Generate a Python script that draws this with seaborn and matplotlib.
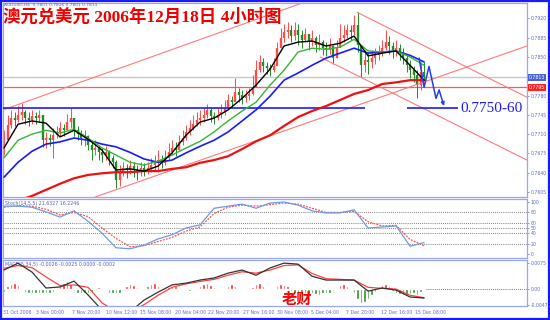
import numpy as np
import pandas as pd
import matplotlib
matplotlib.use("Agg")
import matplotlib.pyplot as plt
import matplotlib.transforms as mtransforms
from matplotlib.patches import Rectangle
import seaborn as sns

sns.set_style("white")
plt.rcParams["font.family"] = ["DejaVu Sans", "Noto Sans CJK SC"]

# ---------------- data ----------------
close = [0.7699, 0.7726, 0.7739, 0.7736, 0.7745, 0.7750, 0.7739, 0.7736, 0.7743, 0.7739,
         0.7745, 0.7699, 0.7703, 0.7699, 0.7708, 0.7714, 0.7721, 0.7717, 0.7732, 0.7739,
         0.7717, 0.7710, 0.7703, 0.7706, 0.7690, 0.7681, 0.7685, 0.7677, 0.7672, 0.7677,
         0.7667, 0.7659, 0.7627, 0.7641, 0.7648, 0.7645, 0.7652, 0.7645, 0.7641, 0.7648,
         0.7645, 0.7648, 0.7654, 0.7659, 0.7663, 0.7658, 0.7667, 0.7677, 0.7685, 0.7681,
         0.7696, 0.7703, 0.7714, 0.7721, 0.7728, 0.7736, 0.7739, 0.7745, 0.7754, 0.7743,
         0.7739, 0.7745, 0.7750, 0.7757, 0.7772, 0.7768, 0.7786, 0.7781, 0.7775, 0.7779,
         0.7783, 0.7794, 0.7826, 0.7841, 0.7833, 0.7830, 0.7826, 0.7833, 0.7866, 0.7884,
         0.7895, 0.7899, 0.7888, 0.7899, 0.7890, 0.7881, 0.7892, 0.7877, 0.7884, 0.7872,
         0.7877, 0.7866, 0.7862, 0.7870, 0.7848, 0.7866, 0.7884, 0.7890, 0.7899, 0.7895,
         0.7908, 0.7872, 0.7835, 0.7844, 0.7841, 0.7848, 0.7853, 0.7859, 0.7866, 0.7877,
         0.7870, 0.7862, 0.7866, 0.7859, 0.7848, 0.7835, 0.7826, 0.7817, 0.7799, 0.7823,
         0.7813]
high = [0.7717, 0.7745, 0.7754, 0.7750, 0.7761, 0.7766, 0.7754, 0.7750, 0.7754, 0.7750,
        0.7754, 0.7745, 0.7714, 0.7710, 0.7721, 0.7725, 0.7732, 0.7728, 0.7746, 0.7757,
        0.7739, 0.7725, 0.7717, 0.7717, 0.7708, 0.7696, 0.7699, 0.7690, 0.7685, 0.7688,
        0.7681, 0.7672, 0.7663, 0.7654, 0.7659, 0.7656, 0.7663, 0.7659, 0.7654, 0.7659,
        0.7658, 0.7659, 0.7667, 0.7672, 0.7681, 0.7672, 0.7681, 0.7694, 0.7699, 0.7696,
        0.7708, 0.7717, 0.7726, 0.7736, 0.7745, 0.7750, 0.7754, 0.7757, 0.7765, 0.7757,
        0.7750, 0.7757, 0.7765, 0.7772, 0.7783, 0.7779, 0.7812, 0.7794, 0.7790, 0.7790,
        0.7794, 0.7817, 0.7844, 0.7853, 0.7848, 0.7841, 0.7837, 0.7848, 0.7877, 0.7902,
        0.7910, 0.7913, 0.7908, 0.7913, 0.7910, 0.7899, 0.7902, 0.7892, 0.7899, 0.7888,
        0.7892, 0.7881, 0.7877, 0.7884, 0.7872, 0.7881, 0.7910, 0.7908, 0.7910, 0.7908,
        0.7926, 0.7931, 0.7872, 0.7862, 0.7859, 0.7862, 0.7866, 0.7872, 0.7881, 0.7899,
        0.7888, 0.7877, 0.7881, 0.7873, 0.7866, 0.7853, 0.7844, 0.7833, 0.7826, 0.7841,
        0.7841]
low = [0.7672, 0.7699, 0.7721, 0.7725, 0.7732, 0.7736, 0.7728, 0.7725, 0.7728, 0.7728,
       0.7732, 0.7687, 0.7685, 0.7688, 0.7667, 0.7703, 0.7706, 0.7706, 0.7717, 0.7721,
       0.7706, 0.7699, 0.7690, 0.7688, 0.7681, 0.7663, 0.7672, 0.7663, 0.7659, 0.7663,
       0.7654, 0.7648, 0.7612, 0.7616, 0.7634, 0.7630, 0.7638, 0.7632, 0.7627, 0.7634,
       0.7634, 0.7638, 0.7641, 0.7645, 0.7641, 0.7648, 0.7654, 0.7663, 0.7672, 0.7670,
       0.7681, 0.7690, 0.7699, 0.7708, 0.7717, 0.7725, 0.7726, 0.7732, 0.7739, 0.7732,
       0.7728, 0.7736, 0.7739, 0.7745, 0.7757, 0.7757, 0.7772, 0.7768, 0.7765, 0.7768,
       0.7772, 0.7781, 0.7799, 0.7823, 0.7823, 0.7819, 0.7815, 0.7823, 0.7835, 0.7866,
       0.7877, 0.7884, 0.7877, 0.7881, 0.7872, 0.7866, 0.7877, 0.7862, 0.7870, 0.7859,
       0.7862, 0.7853, 0.7852, 0.7855, 0.7837, 0.7848, 0.7870, 0.7877, 0.7884, 0.7881,
       0.7890, 0.7859, 0.7813, 0.7823, 0.7819, 0.7830, 0.7837, 0.7844, 0.7852, 0.7862,
       0.7855, 0.7848, 0.7852, 0.7844, 0.7837, 0.7823, 0.7812, 0.7804, 0.7775, 0.7790,
       0.7808]

ma_idx = [0, 4, 8, 12, 16, 20, 24, 28, 32, 36, 40, 44, 48, 52, 56, 60,
          64, 68, 72, 76, 80, 84, 88, 92, 96, 100, 104, 108, 112, 116, 120]
ma_black = [0.7685, 0.7728, 0.7734, 0.7730, 0.7705, 0.7717, 0.7701, 0.7681, 0.7645, 0.7647,
            0.7643, 0.7652, 0.7676, 0.7708, 0.7732, 0.7739, 0.7754, 0.7775, 0.7799, 0.7828,
            0.7870, 0.7877, 0.7879, 0.7870, 0.7875, 0.7888, 0.7852, 0.7857, 0.7861, 0.7835, 0.7808]
ma_green = [0.7667, 0.7699, 0.7710, 0.7717, 0.7712, 0.7719, 0.7703, 0.7685, 0.7672, 0.7659,
            0.7654, 0.7661, 0.7672, 0.7685, 0.7697, 0.7714, 0.7734, 0.7752, 0.7768, 0.7799,
            0.7826, 0.7859, 0.7866, 0.7864, 0.7868, 0.7882, 0.7861, 0.7859, 0.7861, 0.7850, 0.7835]
ma_blue = [0.7632, 0.7659, 0.7679, 0.7692, 0.7696, 0.7703, 0.7699, 0.7692, 0.7687, 0.7677,
           0.7665, 0.7659, 0.7663, 0.7676, 0.7688, 0.7699, 0.7714, 0.7734, 0.7754, 0.7779,
           0.7808, 0.7821, 0.7835, 0.7848, 0.7857, 0.7866, 0.7857, 0.7859, 0.7861, 0.7853, 0.7841]
ma_red = [0.7581, 0.7589, 0.7598, 0.7609, 0.7620, 0.7630, 0.7636, 0.7639, 0.7641, 0.7641,
          0.7643, 0.7643, 0.7647, 0.7650, 0.7658, 0.7663, 0.7670, 0.7683, 0.7697, 0.7708,
          0.7725, 0.7741, 0.7752, 0.7761, 0.7772, 0.7783, 0.7790, 0.7801, 0.7804, 0.7808, 0.7808]

stoch_main = [92, 92, 90, 81, 71, 83, 63, 40, 12, 10, 17, 29, 37, 50, 56, 88,
              92, 96, 88, 98, 100, 94, 83, 79, 79, 85, 50, 52, 54, 15, 22]
stoch_sig = [90, 93, 92, 86, 75, 80, 72, 50, 30, 14, 16, 24, 32, 44, 52, 78,
             90, 94, 92, 95, 98, 96, 88, 80, 80, 82, 62, 54, 55, 28, 16]
stoch_levels = [80, 60, 50, 40, 20]

macd_main = [0.0055, 0.0075, 0.0049, 0.0003, 0.0006, 0.0023, -0.0017, -0.0061, -0.0075, -0.0066,
             -0.0032, -0.0009, 0.0012, 0.0017, 0.0026, 0.0032, 0.0046, 0.0055, 0.0040, 0.0061,
             0.0075, 0.0072, 0.0037, 0.0026, 0.0026, 0.0026, -0.0006, 0.0003, -0.0003, -0.0023, -0.0026]
macd_sig = [0.0060, 0.0068, 0.0062, 0.0035, 0.0010, 0.0012, 0.0005, -0.0040, -0.0065, -0.0068,
            -0.0045, -0.0018, 0.0005, 0.0015, 0.0022, 0.0028, 0.0040, 0.0050, 0.0046, 0.0055,
            0.0068, 0.0070, 0.0045, 0.0030, 0.0028, 0.0026, 0.0005, 0.0002, 0.0000, -0.0018, -0.0025]
macd_hist = [-0.0008, 0.0010, 0.0015, 0.0017, 0.0012, -0.0004, -0.0008, -0.0010, -0.0010, -0.0012,
             -0.0010, -0.0012, -0.0010, -0.0012, -0.0008, 0.0004, 0.0008, 0.0018, 0.0022, 0.0015,
             -0.0006, -0.0012, -0.0012, -0.0010, -0.0012, -0.0008, 0.0003, 0.0006, 0.0002, -0.0003,
             -0.0010, -0.0012, -0.0012, -0.0010, -0.0004, 0.0008, 0.0014, 0.0012, 0.0006, -0.0002,
             0.0002, 0.0008, 0.0015, 0.0018, 0.0010, 0.0004, -0.0003, 0.0006, 0.0010, 0.0008,
             0.0004, -0.0002, -0.0004, -0.0006, -0.0003, 0.0003, 0.0008, 0.0014, 0.0018, 0.0012,
             0.0005, -0.0002, -0.0003, 0.0004, 0.0010, 0.0014, 0.0010, 0.0004, -0.0003, -0.0004,
             -0.0002, 0.0006, 0.0015, 0.0018, 0.0010, 0.0004, -0.0003, -0.0002, 0.0008, 0.0014,
             0.0013, 0.0008, -0.0006, -0.0012, -0.0016, -0.0014, -0.0012, -0.0014, -0.0012, -0.0015,
             -0.0016, -0.0012, -0.0010, -0.0012, -0.0006, 0.0004, 0.0012, 0.0016, 0.0010, 0.0004,
             -0.0010, -0.0030, -0.0040, -0.0036, -0.0028, -0.0018, -0.0008, 0.0006, 0.0012, 0.0016,
             0.0010, -0.0006, -0.0012, -0.0014, -0.0016, -0.0018, -0.0014, -0.0010, -0.0016, -0.0008,
             -0.0002]

# analyst drawings (bar index, price)
trend_x = [[-0.29, 87.4], [26.0, 149.4], [100.9, 149.4], [90.3, 149.4]]
trend_y = [[0.7754, 0.7953], [0.7596, 0.7870], [0.7931, 0.7777], [0.7850, 0.7663]]
support_level = 0.7757
support_segments = [[-0.29, 103.1], [115.1, 129.7]]
support_text = "0.7750-60"
resist_level = 0.7795
bid_level = 0.7813
zig_x = [118.6, 120.0, 121.4, 123.4, 124.3, 125.7]
zig_y = [0.7848, 0.7795, 0.7833, 0.7775, 0.7790, 0.7761]

price_ticks = [0.7920, 0.7885, 0.7850, 0.7780, 0.7745, 0.7710, 0.7675, 0.7640, 0.7605]
stoch_ticks = [100, 80, 60, 50, 40, 20, 0]
macd_ticks = [0.0075, 0.0, -0.0047]
macd_tick_labels = ["0.0075", "0.00", "-0.0047"]
time_pos = [-0.2, 9.1, 19.4, 29.1, 38.9, 48.9, 58.3, 68.3, 78.0, 87.7, 97.7, 107.7, 117.4]
time_labels = ["31 Oct 2006", "3 Nov 00:00", "7 Nov 20:00", "10 Nov 12:00", "15 Nov 08:00",
               "20 Nov 04:00", "22 Nov 20:00", "27 Nov 16:00", "30 Nov 08:00", "5 Dec 04:00",
               "7 Dec 20:00", "12 Dec 16:00", "15 Dec 08:00"]

title = "澳元兑美元 2006年12月18日 4小时图"
header = "AUDUSD,H4  0.7801 0.7826 0.7801 0.7813"
stoch_title = "Stoch(14,5,5) 21.6327 16.2246"
macd_title = "MACD(5,34,5) -0.0026 -0.0025 0.0000 -0.0002"
signature = "老财"

# ---------------- figure ----------------
fig = plt.figure(figsize=(5.5, 3.2), dpi=100)
fig.patch.set_facecolor("white")
L, W = 3 / 550, 524 / 550
ax1 = fig.add_axes([L, 1 - 197 / 320, W, 194 / 320])
ax2 = fig.add_axes([L, 1 - 258 / 320, W, 59 / 320])
ax3 = fig.add_axes([L, 1 - 306 / 320, W, 46 / 320])

tick_col = "#5a6cc8"
spine_col = "#9aa6ee"
TFS = 3.3
XL = (-0.29, 149.4)
for ax in (ax1, ax2, ax3):
    ax.set_facecolor("white")
    ax.set_xlim(*XL)
    for s in ax.spines.values():
        s.set_color(spine_col)
        s.set_linewidth(0.9)
    ax.yaxis.tick_right()
    ax.tick_params(axis="y", labelsize=TFS, colors=tick_col, length=1.5, width=0.5, pad=1)
    ax.tick_params(axis="x", labelsize=TFS, colors=tick_col, length=2, width=0.5, pad=1)
    ax.grid(False)

# ---- main price panel ----
ax1.set_ylim(0.7596, 0.7948)
df = pd.DataFrame({"close": close, "high": high, "low": low})
df["idx"] = np.arange(len(df))
df["open"] = df["close"].shift(1).fillna(df["close"])
up = df["close"] >= df["open"]
cols = np.where(up, "#ff4a4a", "#228b22")
ax1.vlines(df["idx"], df["low"], df["high"], colors=cols, lw=0.7, zorder=2)
ax1.vlines(df["idx"], df[["open", "close"]].min(axis=1), df[["open", "close"]].max(axis=1),
           colors=cols, lw=1.7, zorder=2)

ax1.axhline(bid_level, color="#c8c8c8", lw=1.0, zorder=1)
ax1.axhline(resist_level, color="#ff5a5a", lw=0.9, zorder=1)
for seg in support_segments:
    ax1.hlines(support_level, seg[0], seg[1], color="#1a1aff", lw=1.2, zorder=3)

for tx, ty in zip(trend_x, trend_y):
    sns.lineplot(x=tx, y=ty, ax=ax1, color="#ff7a7a", lw=0.8, estimator=None, sort=False, zorder=2)

sns.lineplot(x=ma_idx, y=ma_red, ax=ax1, color="#ee1111", lw=1.6, estimator=None, zorder=4)
sns.lineplot(x=ma_idx, y=ma_blue, ax=ax1, color="#1a1aff", lw=1.2, estimator=None, zorder=4)
sns.lineplot(x=ma_idx, y=ma_green, ax=ax1, color="#33b533", lw=1.0, estimator=None, zorder=4)
sns.lineplot(x=ma_idx, y=ma_black, ax=ax1, color="black", lw=1.0, estimator=None, zorder=5)

sns.lineplot(x=zig_x[:-1], y=zig_y[:-1], ax=ax1, color="#2040ee", lw=1.1, estimator=None,
             sort=False, zorder=6)
ax1.annotate("", xy=(zig_x[-1], zig_y[-1]), xytext=(zig_x[-2], zig_y[-2]),
             arrowprops=dict(arrowstyle="-|>", color="#2040ee", lw=1.1,
                             mutation_scale=5, shrinkA=0, shrinkB=0), zorder=6)
ax1.text(support_segments[1][1] + 0.6, support_level, support_text, color="#1a1aff",
         fontsize=11, family=["Liberation Serif"], va="center", ha="left", zorder=7)

ax1.set_yticks(price_ticks)
ax1.set_yticklabels([f"{v:.4f}" for v in price_ticks])
ax1.set_xticks([])
ax1.set_xlabel("")
ax1.set_ylabel("")
blend1 = mtransforms.blended_transform_factory(ax1.transAxes, ax1.transData)
ax1.text(1.004, bid_level, f"{bid_level:.4f}", transform=blend1, fontsize=TFS, color="white",
         va="center", ha="left", bbox=dict(boxstyle="square,pad=0.2", fc="#4a62d8", ec="none"))
ax1.text(1.004, resist_level, f"{resist_level:.4f}", transform=blend1, fontsize=TFS, color="white",
         va="center", ha="left", bbox=dict(boxstyle="square,pad=0.2", fc="#ff2020", ec="none"))

# ---- stochastic panel ----
ax2.set_ylim(-7.7, 105.8)
for lv in stoch_levels:
    ax2.axhline(lv, color="#555555", lw=0.6, linestyle=(0, (1, 1.5)), zorder=1)
sns.lineplot(x=ma_idx, y=stoch_sig, ax=ax2, color="#ff5050", lw=0.9, linestyle=(0, (1.5, 1)),
             estimator=None, zorder=3)
sns.lineplot(x=ma_idx, y=stoch_main, ax=ax2, color="#6f9be0", lw=0.9, estimator=None, zorder=4)
ax2.set_yticks(stoch_ticks)
ax2.set_yticklabels([str(v) for v in stoch_ticks])
ax2.set_xticks([])
ax2.set_xlabel("")
ax2.set_ylabel("")
ax2.text(0.004, 0.92, stoch_title, transform=ax2.transAxes, fontsize=3.4, color="#5566aa",
         va="center", ha="left")

# ---- MACD panel ----
ax3.set_ylim(-0.0049, 0.0084)
hcols = np.where(np.array(macd_hist) >= 0, "#ff2a2a", "#2a8f2a")
ax3.bar(np.arange(len(macd_hist)), macd_hist, width=0.75, color=hcols, zorder=2)
ax3.axhline(0, color="#444444", lw=0.6, linestyle=(0, (1, 1.5)), zorder=1)
sns.lineplot(x=ma_idx, y=macd_sig, ax=ax3, color="#ff4040", lw=0.9, estimator=None, zorder=3)
sns.lineplot(x=ma_idx, y=macd_main, ax=ax3, color="#333333", lw=0.9, estimator=None, zorder=4)
ax3.set_yticks(macd_ticks)
ax3.set_yticklabels(macd_tick_labels)
ax3.set_xticks(time_pos)
ax3.set_xticklabels(time_labels, ha="left")
ax3.set_xlabel("")
ax3.set_ylabel("")
ax3.text(0.004, 0.9, macd_title, transform=ax3.transAxes, fontsize=3.4, color="#5566aa",
         va="center", ha="left")

# ---- texts on figure ----
fig.text(3 / 550, 1 - 17 / 320, title, color="#ee0000", fontsize=12.5, fontweight="bold",
         family=["Liberation Serif", "Noto Sans CJK SC"], va="center", ha="left", zorder=10)
fig.text(4 / 550, 1 - 5 / 320, header, color="#5566aa", fontsize=3.2, va="center", ha="left")
fig.text(282 / 550, 1 - 299 / 320, signature, color="#ff0000", fontsize=11, fontweight="bold",
         family=["Noto Sans CJK SC"], va="center", ha="left", zorder=10)

fig.patches.append(Rectangle((0.002, 0.003), 0.996, 0.994, transform=fig.transFigure,
                             fill=False, ec="#1a1aff", lw=1.6, zorder=20))

fig.savefig("out.png", dpi=100, facecolor="white")
